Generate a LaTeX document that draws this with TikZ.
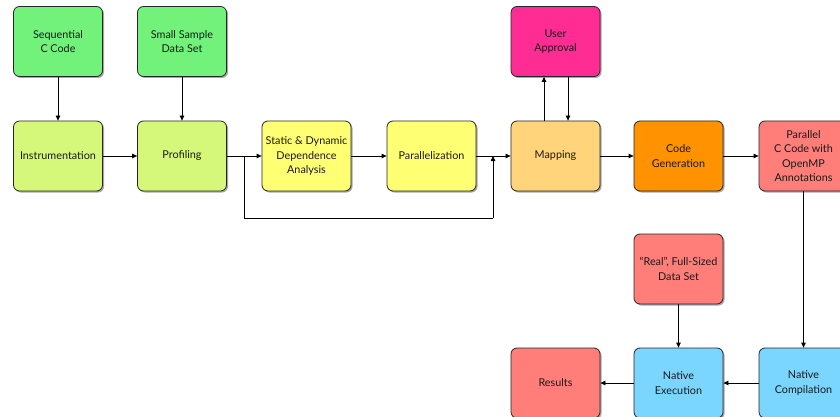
\documentclass[tikz,border=0pt]{standalone}
\usepackage{fontspec}
\setmainfont{Lato}
\usetikzlibrary{arrows.meta,shadows}
\definecolor{cgreen}{RGB}{114,242,122}
\definecolor{clime}{RGB}{214,248,122}
\definecolor{cyellow}{RGB}{255,255,116}
\definecolor{cmap}{RGB}{255,212,122}
\definecolor{corange}{RGB}{255,146,0}
\definecolor{cred}{RGB}{255,126,121}
\definecolor{cpink}{RGB}{255,44,148}
\definecolor{cblue}{RGB}{122,214,255}
\tikzset{
  box/.style={draw=black!85, line width=0.8pt, rounded corners=6pt, minimum width=89pt, minimum height=70pt,
    align=center, font=\fontsize{10.8}{14.3}\selectfont, inner sep=0.5pt, text=black!90,
    drop shadow={shadow xshift=1.5pt, shadow yshift=-1.5pt, fill=black, opacity=0.35}},
  arr/.style={-{Triangle[length=5pt,width=4.5pt]}, line width=0.8pt},
  ln/.style={line width=0.8pt}
}
\begin{document}
\begin{tikzpicture}[x=1pt,y=-1pt]
\useasboundingbox (0,0) rectangle (840,417);
\node[box, fill=cgreen] (seq) at (58,41.5) {Sequential\\C Code};
\node[box, fill=cgreen] (small) at (182,41.5) {Small Sample\\Data Set};
\node[box, fill=cpink] (user) at (555.5,41.5) {User\\Approval};
\node[box, fill=clime] (instr) at (58,156) {Instrumentation};
\node[box, fill=clime] (prof) at (182,156) {Profiling};
\node[box, fill=cyellow] (static) at (306.5,156) {Static \& Dynamic\\Dependence\\Analysis};
\node[box, fill=cyellow] (par) at (431.5,156) {Parallelization};
\node[box, fill=cmap] (map) at (555.5,156) {Mapping};
\node[box, fill=corange] (code) at (678.5,156) {Code\\Generation};
\node[box, fill=cred] (pcode) at (803.5,156) {Parallel\\C Code with\\OpenMP\\Annotations};
\node[box, fill=cred] (real) at (678.5,269) {``Real'', Full-Sized\\Data Set};
\node[box, fill=cred] (res) at (555.5,383) {Results};
\node[box, fill=cblue] (exec) at (678.5,383) {Native\\Execution};
\node[box, fill=cblue] (comp) at (803.5,383) {Native\\Compilation};

\draw[arr] (seq) -- (instr);
\draw[arr] (small) -- (prof);
\draw[arr] (instr) -- (prof);
\draw[arr] (prof) -- (static);
\draw[arr] (static) -- (par);
\draw[arr] (par) -- (map);
\draw[arr] (map) -- (code);
\draw[arr] (code) -- (pcode);
\draw[arr] (map.north -| 544,0) -- (user.south -| 544,0);
\draw[arr] (user.south -| 568,0) -- (map.north -| 568,0);
\coordinate (b1) at (244,156);
\coordinate (b2) at (493,156);
\draw[ln] (b1) -- (244,218) -- (493,218);
\draw[arr] (493,218) -- (b2);
\draw[arr] (pcode) -- (comp);
\draw[arr] (real) -- (exec);
\draw[arr] (comp) -- (exec);
\draw[arr] (exec) -- (res);
\end{tikzpicture}
\end{document}
